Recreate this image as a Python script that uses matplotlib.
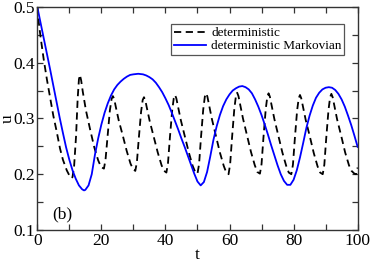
import matplotlib
matplotlib.use("Agg")
import matplotlib.pyplot as plt
from matplotlib.ticker import MultipleLocator

plt.rcParams['font.family'] = ['Liberation Serif', 'DejaVu Serif']

# deterministic (dashed) curve
t_det = [0, 0.5, 1, 2, 3, 4, 5, 6, 7.1, 8, 9.2, 10, 10.7, 11.0, 11.5, 12.1, 12.6, 13.0, 13.3,
         13.7, 14.2, 15.2, 16.5, 17.8, 19.0, 19.9, 20.8, 21.3, 21.95, 22.65, 23.2, 23.6,
         24.0, 24.5, 25.4, 26.7, 27.9, 29.1, 29.9, 30.6, 31.1, 31.7, 32.4, 32.9, 33.3,
         33.7, 34.2, 35.1, 36.4, 37.6, 38.8, 39.6, 40.3, 40.8, 41.4, 42.1, 42.6, 43.0,
         43.4, 43.9, 44.8, 46.1, 47.3, 48.5, 49.3, 50.0, 50.5, 51.1, 51.8, 52.3, 52.7,
         53.1, 53.6, 54.5, 55.8, 57.0, 58.2, 59.0, 59.7, 60.2, 60.8, 61.5, 62.0, 62.4,
         62.8, 63.3, 64.2, 65.5, 66.7, 67.9, 68.7, 69.5, 70.0, 70.6, 71.3, 71.8, 72.2,
         72.6, 73.1, 74.0, 75.3, 76.5, 77.7, 78.5, 79.3, 79.8, 80.4, 81.1, 81.6, 82.0,
         82.4, 82.9, 83.8, 85.1, 86.3, 87.5, 88.3, 89.1, 89.6, 90.2, 90.9, 91.4, 91.8,
         92.2, 92.7, 93.6, 94.9, 96.1, 97.3, 98.1, 99.0, 99.5, 100.0]
u_det = [0.500, 0.470, 0.447, 0.406, 0.370, 0.338, 0.305, 0.278, 0.246, 0.226, 0.207, 0.198, 0.193, 0.195, 0.215, 0.268, 0.335, 0.370, 0.378,
         0.368, 0.348, 0.314, 0.280, 0.248, 0.225, 0.213, 0.210, 0.226, 0.269, 0.314, 0.335, 0.340,
         0.335, 0.321, 0.297, 0.269, 0.242, 0.219, 0.209, 0.206, 0.222, 0.265, 0.312, 0.333, 0.338,
         0.333, 0.319, 0.295, 0.266, 0.239, 0.216, 0.206, 0.203, 0.220, 0.266, 0.314, 0.336, 0.342,
         0.336, 0.322, 0.297, 0.267, 0.239, 0.215, 0.204, 0.201, 0.218, 0.266, 0.316, 0.339, 0.345,
         0.339, 0.325, 0.299, 0.268, 0.239, 0.215, 0.203, 0.200, 0.218, 0.266, 0.317, 0.340, 0.346,
         0.340, 0.326, 0.300, 0.269, 0.240, 0.216, 0.204, 0.201, 0.218, 0.266, 0.316, 0.339, 0.345,
         0.339, 0.325, 0.299, 0.268, 0.239, 0.215, 0.203, 0.200, 0.217, 0.264, 0.314, 0.336, 0.342,
         0.336, 0.322, 0.297, 0.267, 0.238, 0.214, 0.203, 0.200, 0.217, 0.265, 0.315, 0.338, 0.344,
         0.338, 0.324, 0.298, 0.268, 0.239, 0.216, 0.206, 0.201, 0.200, 0.212]

# deterministic Markovian (blue) curve
t_mark = [0, 1, 2, 3, 4, 5, 6, 7, 8, 9, 10, 11, 12, 13, 14, 14.6, 15, 16, 17, 18, 19, 20, 21, 22,
          23, 24, 25, 26, 27, 28, 29, 30, 31.5, 33, 34, 35, 36, 37, 38, 39, 40, 41, 42, 43, 44,
          45, 46, 47, 48, 49, 50, 51, 52, 53, 54, 55, 56, 57, 58, 59, 60, 61, 62, 63, 64, 65, 66,
          67, 68, 69, 70, 71, 72, 73, 74, 75, 76, 77, 78, 79, 80, 81, 82, 83, 84, 85, 86, 87, 88,
          89, 90, 91, 92, 93, 94, 95, 96, 97, 98, 99, 100]
u_mark = [0.500, 0.472, 0.444, 0.416, 0.388, 0.359, 0.330, 0.301, 0.274, 0.248, 0.226, 0.207, 0.192, 0.180,
          0.173, 0.171, 0.172, 0.180, 0.200, 0.235, 0.264, 0.289, 0.310, 0.327, 0.341, 0.352, 0.360, 0.366,
          0.371, 0.375, 0.378, 0.379, 0.380, 0.379, 0.377, 0.374, 0.370, 0.364, 0.356, 0.347, 0.336, 0.324,
          0.310, 0.295, 0.280, 0.264, 0.249, 0.233, 0.217, 0.201, 0.187, 0.180, 0.186, 0.204, 0.232, 0.262,
          0.286, 0.306, 0.322, 0.334, 0.343, 0.350, 0.354, 0.357, 0.358, 0.356, 0.352, 0.345, 0.334, 0.321,
          0.306, 0.289, 0.271, 0.252, 0.234, 0.216, 0.200, 0.188, 0.181, 0.181, 0.190, 0.207, 0.230, 0.256,
          0.283, 0.305, 0.323, 0.337, 0.346, 0.352, 0.355, 0.356, 0.355, 0.351, 0.344, 0.334, 0.321, 0.305,
          0.288, 0.269, 0.249]

fig = plt.figure(figsize=(3.71, 2.62), dpi=100)
ax = fig.add_axes([0.1005, 0.122, 0.8635, 0.852])

ax.plot(t_det, u_det, color='black', lw=1.3, linestyle=(0, (4, 2.5)), label='deterministic')
ax.plot(t_mark, u_mark, color='#0000ff', lw=1.3, label='deterministic Markovian')

ax.set_xlim(0, 100)
ax.set_ylim(0.1, 0.5)
ax.xaxis.set_major_locator(MultipleLocator(20))
ax.xaxis.set_minor_locator(MultipleLocator(10))
ax.yaxis.set_major_locator(MultipleLocator(0.1))
ax.yaxis.set_minor_locator(MultipleLocator(0.05))
ax.tick_params(which='both', direction='in', top=True, right=True, length=4, width=0.9,
               color='#333333', labelsize=12.5, pad=2)
for s in ax.spines.values():
    s.set_color('#333333')
    s.set_linewidth(1.0)

ax.set_xlabel('t', fontsize=12.5, labelpad=-1)
ax.set_ylabel('u', fontsize=12.5, labelpad=-2)
ax.text(7.7, 0.128, '(b)', fontsize=12.5, ha='center', va='center')

leg = ax.legend(loc='upper right', bbox_to_anchor=(0.958, 0.921), fontsize=9.5, frameon=True,
                fancybox=False, framealpha=1, edgecolor='#555555', borderpad=0.2,
                labelspacing=0.05, handlelength=2.4, handletextpad=0.4, borderaxespad=0)
leg.get_frame().set_linewidth(0.9)

fig.savefig('out.png', dpi=100)
